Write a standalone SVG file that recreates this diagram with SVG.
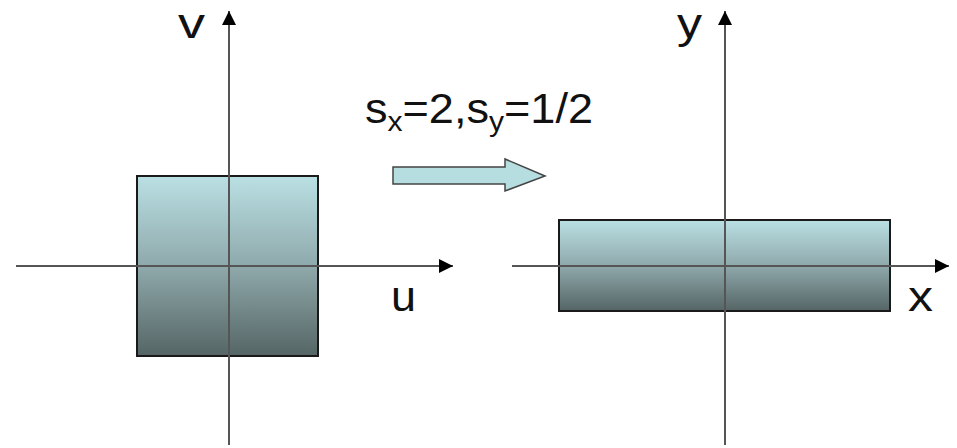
<svg xmlns="http://www.w3.org/2000/svg" width="957" height="448" viewBox="0 0 957 448">
<defs>
<linearGradient id="g" x1="0" y1="0" x2="0" y2="1">
<stop offset="0" stop-color="#bae0e4"/>
<stop offset="0.5" stop-color="#8fa9ab"/>
<stop offset="1" stop-color="#556565"/>
</linearGradient>
<marker id="ah" markerWidth="14" markerHeight="14" refX="10" refY="5" orient="auto" markerUnits="userSpaceOnUse" viewBox="0 0 10 10">
<path d="M0,0 L10,5 L0,10 z" fill="#000"/>
</marker>
<style>
.box{fill:url(#g);stroke:#1a1a1a;stroke-width:2}
.ax{stroke:#555;stroke-width:2;fill:none}
.t{font-family:"Liberation Sans",Arial,sans-serif;fill:#111}
</style>
</defs>
<g id="left-square"><rect class="box" x="137" y="176" width="181" height="180"/></g>
<g id="right-rect"><rect class="box" x="559" y="220" width="331" height="91"/></g>
<g id="connectors">
<line class="ax" x1="16" y1="266" x2="453" y2="266" marker-end="url(#ah)"/>
<line class="ax" x1="229" y1="445" x2="229" y2="11" marker-end="url(#ah)"/>
<line class="ax" x1="512" y1="266" x2="949" y2="266" marker-end="url(#ah)"/>
<line class="ax" x1="725" y1="445" x2="725" y2="11" marker-end="url(#ah)"/>
</g>
<g id="transform-arrow"><path d="M393,167 L505,167 L505,159 L545,176 L505,191 L505,184 L393,184 Z" fill="#b6dde0" stroke="#444" stroke-width="1.5"/></g>
<g id="labels">
<text class="t" x="178" y="38" font-size="42" textLength="27" lengthAdjust="spacingAndGlyphs">v</text>
<text class="t" x="677" y="38" font-size="42" textLength="25" lengthAdjust="spacingAndGlyphs">y</text>
<text class="t" x="391" y="311" font-size="42" textLength="25" lengthAdjust="spacingAndGlyphs">u</text>
<text class="t" x="908" y="311" font-size="42" textLength="25" lengthAdjust="spacingAndGlyphs">x</text>
<text class="t" x="365" y="123" font-size="42" textLength="228" lengthAdjust="spacingAndGlyphs">s<tspan font-size="28" dy="8">x</tspan><tspan dy="-8">=2,s</tspan><tspan font-size="28" dy="8">y</tspan><tspan dy="-8">=1/2</tspan></text>
</g>
</svg>
